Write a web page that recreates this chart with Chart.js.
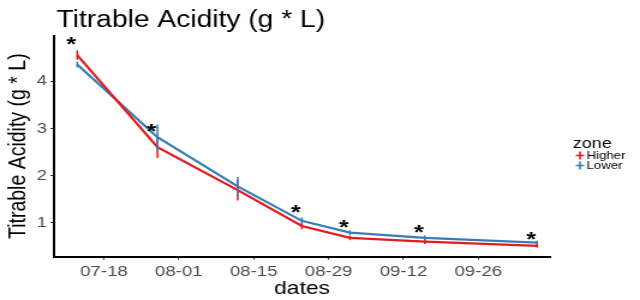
<!DOCTYPE html>
<html>
<head>
<meta charset="utf-8">
<script src="https://cdn.jsdelivr.net/npm/chart.js@4"></script>
<style>
html,body{margin:0;padding:0;background:#fff;overflow:hidden;}
#wrap{width:533px;height:300px;transform:scale(1.2008,1);transform-origin:0 0;}
</style>
</head>
<body>
<div id="wrap"><canvas id="c" width="533" height="300"></canvas></div>
<script>
// ---- data ----
const dates = ["07-13","07-28","08-12","08-24","09-02","09-16","10-07"];
const higher = [4.55, 2.60, 1.69, 0.93, 0.68, 0.60, 0.51];
const lower  = [4.35, 2.81, 1.77, 1.04, 0.79, 0.68, 0.58];
const higherErr = [0.10, 0.23, 0.22, 0.07, 0.05, 0.05, 0.04];
const lowerErr  = [0.06, 0.27, 0.20, 0.07, 0.05, 0.05, 0.04];
const starY = [4.87, 3.02, null, 1.31, 0.99, 0.88, 0.74];
const tickLabels = ["07-18","08-01","08-15","08-29","09-12","09-26"];
const seriesNames = ["Higher","Lower"];
const colors = ["#E41A1C","#377EB8"];

function dayNum(s){const p=s.split("-");return Date.UTC(2020,+p[0]-1,+p[1])/86400000;}
const xVals = dates.map(dayNum);
const tickVals = tickLabels.map(dayNum);
const errs = [higherErr, lowerErr];
const FONT = '"Liberation Sans", Arial, sans-serif';

const overlay = {
  id:'overlay',
  afterLayout(chart){
    const t = chart.titleBlock;
    if(t){ const w=t.right-t.left; t.left=47; t.right=47+w; }
  },
  afterDatasetsDraw(chart){
    const ctx=chart.ctx, xs=chart.scales.x, ys=chart.scales.y;
    ctx.save();
    // error bars
    chart.data.datasets.forEach((ds,di)=>{
      ctx.strokeStyle=ds.borderColor; ctx.lineWidth=1.5;
      ds.data.forEach((p,i)=>{
        const px=xs.getPixelForValue(p.x);
        const e=errs[di][i];
        ctx.beginPath();
        ctx.moveTo(px, ys.getPixelForValue(p.y+e));
        ctx.lineTo(px, ys.getPixelForValue(p.y-e));
        ctx.stroke();
      });
    });
    // significance stars
    ctx.fillStyle='#000';
    ctx.font='bold 21px '+FONT;
    ctx.textAlign='center'; ctx.textBaseline='alphabetic';
    starY.forEach((v,i)=>{
      if(v==null) return;
      const px=xs.getPixelForValue(xVals[i])-5;
      const py=ys.getPixelForValue(v);
      ctx.fillText('*', px, py+11);
    });
    // legend
    ctx.textAlign='left'; ctx.textBaseline='middle';
    ctx.font='15px '+FONT;
    ctx.fillText('zone', 477, 144);
    ctx.font='11px '+FONT;
    seriesNames.forEach((n,i)=>{
      const cy=155.5+i*10, cx=483;
      ctx.strokeStyle=colors[i]; ctx.lineWidth=1.6;
      ctx.beginPath();
      ctx.moveTo(cx-3.5,cy); ctx.lineTo(cx+3.5,cy);
      ctx.moveTo(cx,cy-4); ctx.lineTo(cx,cy+4);
      ctx.stroke();
      ctx.fillStyle='#000';
      ctx.fillText(n, 488.5, cy+0.5);
    });
    ctx.restore();
  }
};

new Chart(document.getElementById('c'),{
  type:'line',
  data:{
    datasets:[
      {label:seriesNames[0], data:xVals.map((x,i)=>({x, y:higher[i]})), borderColor:colors[0], backgroundColor:colors[0], borderWidth:2.2, pointRadius:0, tension:0},
      {label:seriesNames[1], data:xVals.map((x,i)=>({x, y:lower[i]})), borderColor:colors[1], backgroundColor:colors[1], borderWidth:2.2, pointRadius:0, tension:0}
    ]
  },
  options:{
    responsive:false,
    animation:false,
    layout:{padding:{left:0,right:533-458,top:0,bottom:0}},
    plugins:{
      legend:{display:false},
      tooltip:{enabled:false},
      title:{display:true, text:'Titrable Acidity (g * L)', align:'start', color:'#000',
        font:{family:FONT, size:23.5, weight:'normal'},
        padding:{top:6.4,bottom:1.1}}
    },
    scales:{
      x:{
        type:'linear',
        min: dayNum("07-18") - 9.33,
        max: dayNum("09-26") + 13.4,
        afterBuildTicks(s){ s.ticks = tickVals.map(v=>({value:v})); },
        afterFit(s){ s.height = 300-256.7; },
        ticks:{ callback:(v)=>tickLabels[tickVals.indexOf(v)], color:'#4D4D4D', padding:3, maxRotation:0, autoSkip:false,
          font:{family:FONT, size:15.5} },
        grid:{drawOnChartArea:false, drawTicks:true, tickLength:3, color:'#333'},
        border:{display:true, color:'#000', width:2},
        title:{display:true, text:'dates', color:'#000', padding:{top:0,bottom:0},
          font:{family:FONT, size:19}}
      },
      y:{
        min:0.28, max:4.96,
        afterBuildTicks(s){ s.ticks=[1,2,3,4].map(v=>({value:v})); },
        afterFit(s){ s.width = 45; },
        ticks:{ color:'#4D4D4D', padding:3, font:{family:FONT, size:15.5} },
        grid:{drawOnChartArea:false, drawTicks:true, tickLength:3, color:'#333'},
        border:{display:true, color:'#000', width:2},
        title:{display:true, text:'Titrable Acidity (g * L)', color:'#000', padding:{top:4.4,bottom:0},
          font:{family:FONT, size:19.5}}
      }
    }
  },
  plugins:[overlay]
});
</script>
</body>
</html>
